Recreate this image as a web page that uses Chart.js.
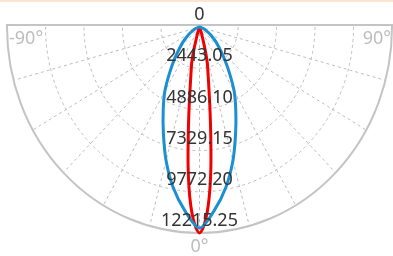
<!DOCTYPE html>
<html>
<head>
<meta charset="utf-8">
<script src="https://cdn.jsdelivr.net/npm/chart.js@4"></script>
<style>
  html, body { margin: 0; padding: 0; background: #fff; }
  #wrap { width: 393px; height: 256px; }
</style>
</head>
<body>
<div id="wrap"><canvas id="polar-chart" width="393" height="256"></canvas></div>
<script>
// radial rings (cd) and spoke angles (deg)
const ringTicks = [2443.05, 4886.10, 7329.15, 9772.20, 12215.25];
const spokeAngles = [-75, -60, -45, -30, -15, 0, 15, 30, 45, 60, 75];

// C0/C180 plane (blue), half curve, mirrored on both sides
const blueAngles = [0, 5, 10, 15, 20, 25, 30, 35, 40, 45, 50, 55, 60, 65, 70, 75, 80, 85, 90];
const blueValues = [11920, 10900, 9650, 8200, 6700, 5450, 4400, 3300, 2450, 1800, 1350, 950, 650, 400, 230, 120, 50, 15, 0];

// C90/C270 plane (red)
const redAngles = [0, 1, 2, 3, 4, 5, 6, 7, 8, 9, 10, 11, 12, 13, 14, 15, 16, 18, 20, 25, 30, 40, 60, 90];
const redValues = [12215, 11950, 11400, 10600, 9550, 8300, 6900, 5700, 4700, 3900, 3300, 2850, 2500, 2200, 1800, 1300, 850, 420, 220, 80, 30, 10, 0, 0];

const R = ringTicks[ringTicks.length - 1];

function toPoints(angles, values) {
  const pts = [];
  for (let i = angles.length - 1; i > 0; i--) {
    const a = -angles[i] * Math.PI / 180;
    pts.push({ x: values[i] * Math.sin(a), y: -values[i] * Math.cos(a) });
  }
  for (let i = 0; i < angles.length; i++) {
    const a = angles[i] * Math.PI / 180;
    pts.push({ x: values[i] * Math.sin(a), y: -values[i] * Math.cos(a) });
  }
  return pts;
}

const polarGrid = {
  id: 'polarGrid',
  beforeDatasetsDraw(chart) {
    const ctx = chart.ctx, xs = chart.scales.x, ys = chart.scales.y, area = chart.chartArea;
    const cx = xs.getPixelForValue(0), cy = ys.getPixelForValue(0);
    const rx = xs.getPixelForValue(R) - cx, ry = ys.getPixelForValue(-R) - cy;
    ctx.save();
    // page top border
    ctx.strokeStyle = '#fde5cf';
    ctx.lineWidth = 2;
    ctx.beginPath(); ctx.moveTo(0, 1); ctx.lineTo(393, 1); ctx.stroke();
    // dashed rings
    ctx.strokeStyle = '#bdbdbd';
    ctx.lineWidth = 1;
    ctx.setLineDash([3, 3]);
    ringTicks.slice(0, -1).forEach(v => {
      const k = v / R;
      ctx.beginPath();
      ctx.ellipse(cx, cy, rx * k, ry * k, 0, 0, Math.PI);
      ctx.stroke();
    });
    // dashed spokes
    spokeAngles.forEach(d => {
      const a = d * Math.PI / 180;
      ctx.beginPath();
      ctx.moveTo(cx, cy);
      ctx.lineTo(cx + rx * Math.sin(a), cy + ry * Math.cos(a));
      ctx.stroke();
    });
    // outer boundary
    ctx.setLineDash([]);
    ctx.strokeStyle = '#c4c4c4';
    ctx.lineWidth = 2;
    ctx.beginPath();
    ctx.moveTo(cx + rx, area.top);
    ctx.lineTo(cx + rx, cy);
    ctx.ellipse(cx, cy, rx, ry, 0, 0, Math.PI);
    ctx.lineTo(cx - rx, area.top);
    ctx.closePath();
    ctx.stroke();
    ctx.restore();
  },
  afterDatasetsDraw(chart) {
    const ctx = chart.ctx, xs = chart.scales.x, ys = chart.scales.y;
    const cx = xs.getPixelForValue(0), cy = ys.getPixelForValue(0);
    ctx.save();
    ctx.font = '18px "Noto Sans"';
    ctx.textBaseline = 'middle';
    ctx.textAlign = 'center';
    ctx.fillStyle = '#333';
    ctx.fillText('0', cx, 15);
    ringTicks.forEach(v => {
      ctx.fillText(v.toFixed(2), cx, ys.getPixelForValue(-v) - 12);
    });
    ctx.fillStyle = '#bdbdbd';
    ctx.fillText('0°', cx, 247);
    ctx.textAlign = 'left';
    ctx.fillText('-90°', 9, 39);
    ctx.textAlign = 'right';
    ctx.fillText('90°', 391, 39);
    ctx.restore();
  }
};

new Chart(document.getElementById('polar-chart'), {
  type: 'scatter',
  data: {
    datasets: [{
      label: 'C0/C180',
      data: toPoints(blueAngles, blueValues),
      showLine: true,
      borderColor: '#1a8fd2',
      borderWidth: 3,
      pointRadius: 0,
      tension: 0.3,
      clip: false
    }, {
      label: 'C90/C270',
      data: toPoints(redAngles, redValues),
      showLine: true,
      borderColor: '#f00000',
      borderWidth: 3,
      pointRadius: 0,
      tension: 0.3,
      clip: false
    }]
  },
  options: {
    responsive: false,
    animation: false,
    devicePixelRatio: 1,
    layout: { padding: { left: 7, right: 1, top: 25, bottom: 23 } },
    plugins: { legend: { display: false }, tooltip: { enabled: false } },
    scales: {
      x: { type: 'linear', min: -R, max: R, display: false },
      y: { type: 'linear', min: -R, max: 119, display: false }
    }
  },
  plugins: [polarGrid]
});
</script>
</body>
</html>
